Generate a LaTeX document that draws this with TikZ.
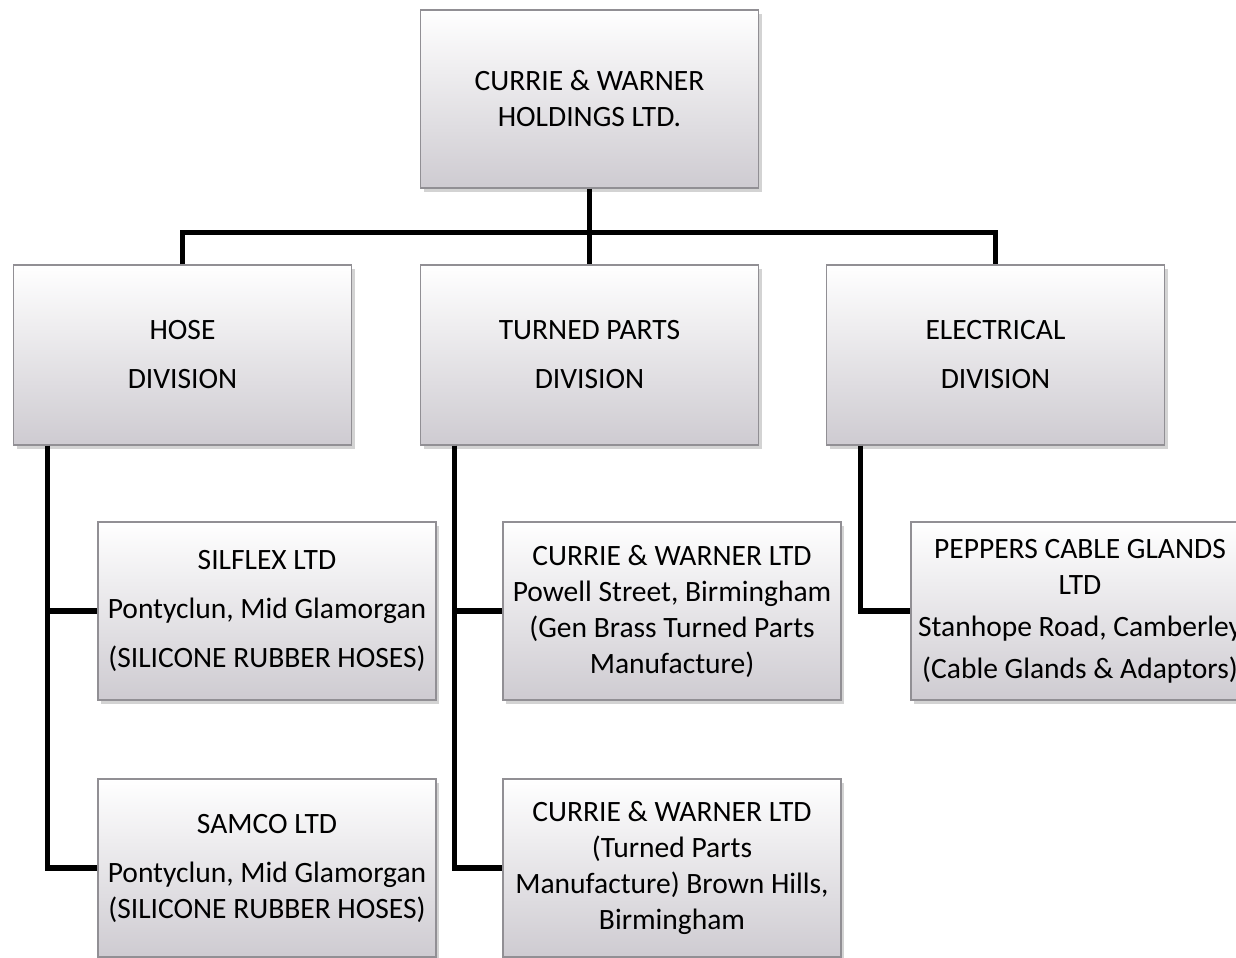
\documentclass[tikz,border=0pt]{standalone}
\usepackage{fontspec}
\setmainfont{Carlito}
\usepackage{tikz}
\usetikzlibrary{positioning}
\usetikzlibrary{shadows}
\usepackage{xcolor}
\definecolor{boxgrey}{RGB}{206,203,209}
\definecolor{edgegrey}{RGB}{145,143,148}

\begin{document}
\begin{tikzpicture}[scale=1,
		unit/.style={draw=edgegrey, line width=0.8pt, top color=white, bottom color=boxgrey,
			minimum width=6.76cm, minimum height=3.56cm, inner sep=0pt, align=center,
			font=\fontsize{16.8}{20.5}\selectfont,
			drop shadow={opacity=0.35, shadow xshift=0.6mm, shadow yshift=-0.8mm}},
		link/.style={black, line width=3pt}]
			\useasboundingbox (0, 0) rectangle (24.72, -19.14);
			% holding company
			\node[unit] (holding) at (11.79, -1.98) {CURRIE \& WARNER\\HOLDINGS LTD.};
			% divisions
			\node[unit, minimum height=3.6cm] (hose) at (3.65, -7.1) {HOSE\\[7.4pt]DIVISION};
			\node[unit, minimum height=3.6cm] (turned) at (11.79, -7.1) {TURNED PARTS\\[7.4pt]DIVISION};
			\node[unit, minimum height=3.6cm] (electrical) at (19.91, -7.1) {ELECTRICAL\\[7.4pt]DIVISION};
			% companies
			\node[unit] (silflex) at (5.34, -12.22) {SILFLEX LTD\\[7.4pt]Pontyclun, Mid Glamorgan\\[7.4pt](SILICONE RUBBER HOSES)};
			\node[unit] (samco) at (5.34, -17.36) {SAMCO LTD\\[7.4pt]Pontyclun, Mid Glamorgan\\(SILICONE RUBBER HOSES)};
			\node[unit] (powell) at (13.44, -12.22) {CURRIE \& WARNER LTD\\Powell Street, Birmingham\\(Gen Brass Turned Parts\\Manufacture)};
			\node[unit] (brown) at (13.44, -17.36) {CURRIE \& WARNER LTD\\(Turned Parts\\Manufacture) Brown Hills,\\Birmingham};
			\node[unit] (peppers) at (21.6, -12.22) {PEPPERS CABLE GLANDS\\LTD\\[3.4pt]Stanhope Road, Camberley\\[3.4pt](Cable Glands \& Adaptors)};
			% connectors
			\coordinate (junction) at ([yshift=-0.88cm]holding.south);
			\draw[link] (holding.south) -- (turned.north);
			\draw[link] (hose.north) |- (junction) -| (electrical.north);
			\draw[link] (hose.south west) ++(0.7, 0) |- (samco.west);
			\draw[link] (hose.south west) ++(0.7, 0) |- (silflex.west);
			\draw[link] (turned.south west) ++(0.7, 0) |- (brown.west);
			\draw[link] (turned.south west) ++(0.7, 0) |- (powell.west);
			\draw[link] (electrical.south west) ++(0.7, 0) |- (peppers.west);
		\end{tikzpicture}
\end{document}
